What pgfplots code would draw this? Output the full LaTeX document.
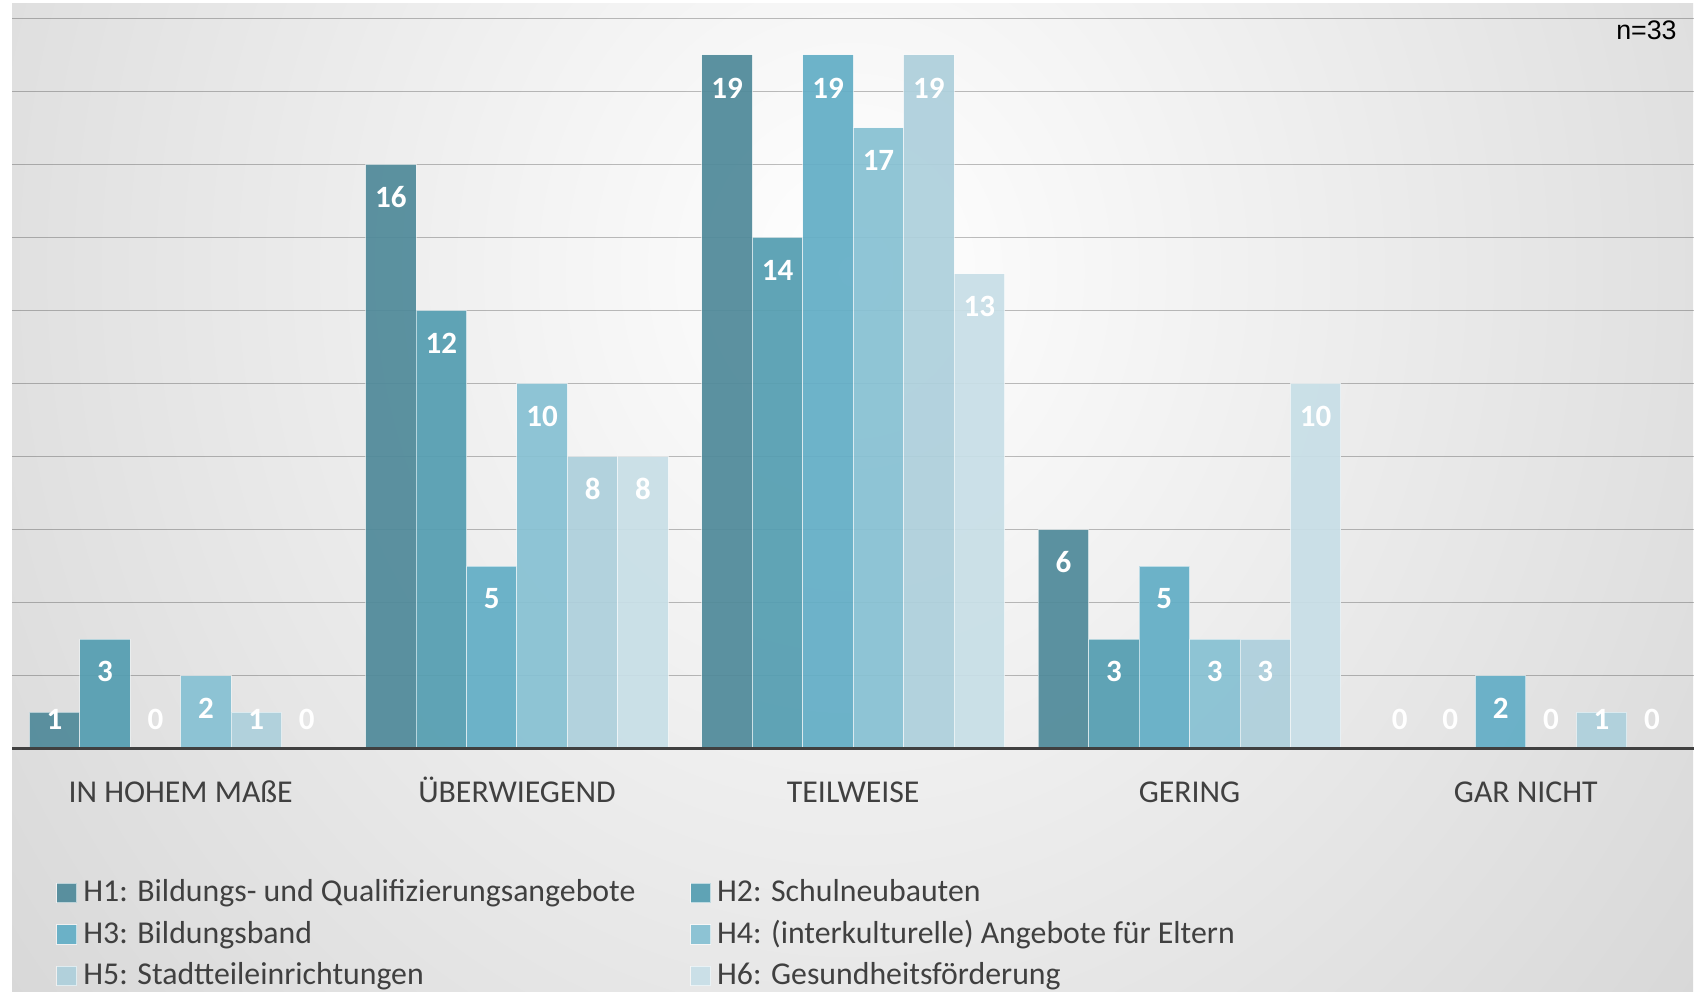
\documentclass[border=0pt]{standalone}
\usepackage{pgfplots}
\pgfplotsset{compat=1.18}
\usepackage{fontspec}
\setmainfont{Carlito}
\newfontfamily\arialfont{Liberation Sans}
\definecolor{cA}{HTML}{508A9A}
\definecolor{cB}{HTML}{559EB1}
\definecolor{cC}{HTML}{63AEC6}
\definecolor{cD}{HTML}{87C1D3}
\definecolor{cE}{HTML}{AED0DC}
\definecolor{cF}{HTML}{C8DFE7}
\definecolor{txt}{HTML}{404040}
\definecolor{bgout}{HTML}{C0C0C0}
\begin{document}
\begin{tikzpicture}
\path[use as bounding box] (0,0) rectangle (848pt,495.5pt);
\fill[white] (0,0) rectangle (848pt,495.5pt);
\begin{scope}
\clip (6pt,0pt) rectangle (846.5pt,493.5pt);
\shade[inner color=white, outer color=bgout] (426pt,360pt) ellipse (860pt and 960pt);
\end{scope}
\begin{axis}[
  at={(6.25pt,121.25pt)}, anchor=south west,
  scale only axis, width=840.75pt, height=365pt,
  xmin=-0.5, xmax=4.5, ymin=0, ymax=20,
  clip=false,
  ybar=0pt, bar width=0.15,
  axis line style={draw=none},
  major tick style={draw=none},
  ytick={2,4,...,20}, yticklabels={},
  ymajorgrids, grid style={black, opacity=0.25, line width=0.9pt},
  xtick={0,...,4},
  xticklabels={IN HOHEM MAßE, ÜBERWIEGEND, TEILWEISE, GERING, GAR NICHT},
  xticklabel style={font=\fontsize{15.9}{18}\selectfont, text=txt, anchor=base, inner sep=0pt, yshift=-22.5pt},
  /pgf/number format/assume math mode=true,
  every axis plot/.append style={fill opacity=0.93, draw=white, draw opacity=0.55, line width=0.5pt},
  nodes near coords,
  visualization depends on=rawy\as\rawy,
  nodes near coords style={font=\fontsize{15.5}{18}\selectfont\bfseries, text=white, text opacity=1, anchor=center, inner sep=0pt, yshift={max(-0.9,0.8-\rawy)*18.25}},
  legend columns=2,
  legend cell align=left,
  legend style={at={(axis description cs:0.02587,-0.2571)}, anchor=west, draw=none, fill=none,
    inner xsep=0pt, inner ysep=0pt, font=\fontsize{15.9}{18}\selectfont, text=txt, row sep=5.75pt,
    /tikz/every even column/.append style={column sep=24.3pt},
    nodes={inner xsep=3pt, inner ysep=0pt, text height=11pt, text depth=4pt}},
  legend image code/.code={\fill[#1, draw=white, draw opacity=0.6, line width=0.5pt] (0pt,-4pt) rectangle (10pt,5.6pt);},
]
\addplot[fill=cA] coordinates {(0,1) (1,16) (2,19) (3,6) (4,0)};
\addplot[fill=cB] coordinates {(0,3) (1,12) (2,14) (3,3) (4,0)};
\addplot[fill=cC] coordinates {(0,0) (1,5) (2,19) (3,5) (4,2)};
\addplot[fill=cD] coordinates {(0,2) (1,10) (2,17) (3,3) (4,0)};
\addplot[fill=cE] coordinates {(0,1) (1,8) (2,19) (3,3) (4,1)};
\addplot[fill=cF] coordinates {(0,0) (1,8) (2,13) (3,10) (4,0)};
\legend{H1: Bildungs- und Qualifizierungsangebote, H2: Schulneubauten, H3: Bildungsband, H4: (interkulturelle) Angebote für Eltern, H5: Stadtteileinrichtungen, H6: Gesundheitsförderung}
\draw[txt, line width=1.8pt] (rel axis cs:0,0) -- (rel axis cs:1,0);
\end{axis}
\node[anchor=east, inner sep=0pt, font=\arialfont\fontsize{13.4}{16}\selectfont] at (838.5pt,480.5pt) {n=33};
\end{tikzpicture}
\end{document}
